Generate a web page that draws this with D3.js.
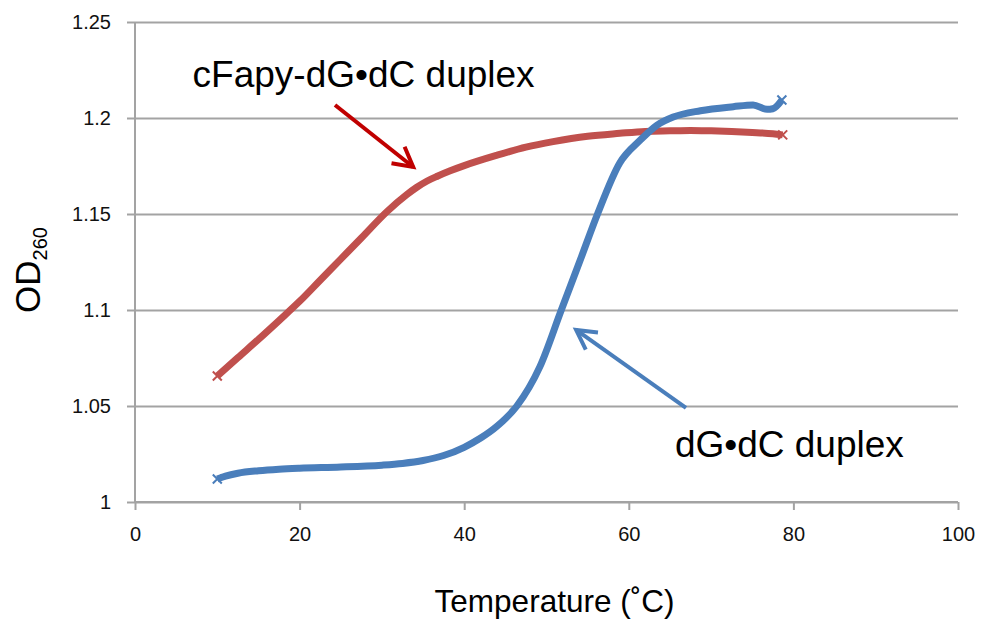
<!DOCTYPE html>
<html>
<head>
<meta charset="utf-8">
<script src="https://cdn.jsdelivr.net/npm/d3@7/dist/d3.min.js"></script>
<style>
  html, body { margin: 0; padding: 0; background: #fff; }
  svg { display: block; }
  text { font-family: "Liberation Sans", Arial, sans-serif; }
</style>
</head>
<body>
<svg id="chart" width="983" height="619"></svg>
<script>
// ---- data ----
const xTicks = [0, 20, 40, 60, 80, 100];
const yTicks = [1, 1.05, 1.1, 1.15, 1.2, 1.25];
const yTickLabels = ["1", "1.05", "1.1", "1.15", "1.2", "1.25"];

const cfapyTemp = [10, 12.5, 15, 17.5, 20, 22.5, 25, 27.5, 30.6, 33, 34.2, 35.5, 36.8, 38.3, 40, 43.9, 47.5, 50.8, 55, 58.9, 62, 65, 67.5, 70, 72.5, 75, 77.5, 78.7];
const cfapyOD   = [1.0656, 1.0752, 1.0847, 1.0945, 1.1045, 1.1155, 1.1265, 1.1375, 1.1512, 1.16, 1.1638, 1.1672, 1.1698, 1.1725, 1.1752, 1.1805, 1.1848, 1.1877, 1.1905, 1.192, 1.193, 1.1933, 1.1935, 1.1933, 1.193, 1.1925, 1.1918, 1.1912];

const dgdcTemp = [10, 11, 12.5, 15, 17.5, 20, 25, 30, 32.5, 35, 37.5, 40, 42, 44, 46.4, 49.2, 51.8, 54.1, 56.2, 58.9, 61.4, 63.4, 65.4, 68.7, 72.7, 75.1, 76.8, 77.5, 78.6];
const dgdcOD   = [1.012, 1.0135, 1.015, 1.0163, 1.0171, 1.0176, 1.0182, 1.0192, 1.0201, 1.0216, 1.0242, 1.0285, 1.0333, 1.0395, 1.05, 1.0705, 1.1, 1.126, 1.15, 1.1766, 1.1885, 1.1962, 1.2005, 1.2038, 1.2059, 1.2068, 1.2045, 1.2048, 1.2094];

const seriesNames = ["cFapy-dG•dC duplex", "dG•dC duplex"];
// annotation arrows in data units: [tailT, tailOD, tipT, tipOD]
const redArrow  = [24.3, 1.2068, 33.8, 1.1745];
const blueArrow = [66.95, 1.049, 53.6, 1.0896];
// label anchors in data units
const redLabel  = [7.0, 1.2161];
const blueLabel = [65.6, 1.0235];

const xTitle = "Temperature (˚C)";
const yTitleMain = "OD";
const yTitleSub = "260";

// ---- drawing ----
const svg = d3.select("#chart");
const x = d3.scaleLinear().domain([0, 100]).range([135, 958]);
const y = d3.scaleLinear().domain([1, 1.25]).range([502, 22]);

const gridColor = "#a3a3a3";

// gridlines
svg.append("g")
  .attr("transform", `translate(${x(0)},0)`)
  .call(d3.axisLeft(y).tickValues(yTicks).tickSize(-(x(100) - x(0))).tickFormat(""))
  .call(g => g.select(".domain").remove())
  .call(g => g.selectAll("line").attr("stroke", gridColor).attr("stroke-width", 2));

// y axis
const yAxis = svg.append("g")
  .attr("transform", `translate(${x(0)},0)`)
  .call(d3.axisLeft(y).tickValues(yTicks).tickSize(8).tickPadding(16)
    .tickFormat((d, i) => yTickLabels[i]));
yAxis.select(".domain").attr("stroke", gridColor).attr("stroke-width", 2).attr("d", `M0,${y(1.25)}V${y(1)}`);
yAxis.selectAll("line").attr("stroke", gridColor).attr("stroke-width", 2);
yAxis.selectAll("text").attr("font-size", 20).attr("fill", "#111");

// x axis
const xAxis = svg.append("g")
  .attr("transform", `translate(0,${y(1)})`)
  .call(d3.axisBottom(x).tickValues(xTicks).tickSize(8).tickPadding(17).tickFormat(d3.format("d")));
xAxis.select(".domain").attr("stroke", gridColor).attr("stroke-width", 2).attr("d", `M${x(0)},0H${x(100)}`);
xAxis.selectAll("line").attr("stroke", gridColor).attr("stroke-width", 2);
xAxis.selectAll("text").attr("font-size", 20).attr("fill", "#111");

// series
const line = d3.line().x(d => x(d[0])).y(d => y(d[1])).curve(d3.curveMonotoneX);
const redData = cfapyTemp.map((t, i) => [t, cfapyOD[i]]);
const blueData = dgdcTemp.map((t, i) => [t, dgdcOD[i]]);

function drawSeries(data, color) {
  svg.append("path").datum(data)
    .attr("fill", "none").attr("stroke", color).attr("stroke-width", 7)
    .attr("stroke-linejoin", "round").attr("d", line);
  const s = 4.5;
  const ends = [data[0], data[data.length - 1]];
  svg.append("g").selectAll("path").data(ends).join("path")
    .attr("d", d => {
      const cx = x(d[0]), cy = y(d[1]);
      return `M${cx - s},${cy - s}L${cx + s},${cy + s}M${cx - s},${cy + s}L${cx + s},${cy - s}`;
    })
    .attr("stroke", color).attr("stroke-width", 2).attr("fill", "none");
}
drawSeries(redData, "#c0504d");
drawSeries(blueData, "#4a7ebb");

// arrows
function drawArrow(a, color, width, headLen) {
  const x1 = x(a[0]), y1 = y(a[1]), x2 = x(a[2]), y2 = y(a[3]);
  const ang = Math.atan2(y2 - y1, x2 - x1);
  const spread = 0.5;
  const hx1 = x2 - headLen * Math.cos(ang - spread), hy1 = y2 - headLen * Math.sin(ang - spread);
  const hx2 = x2 - headLen * Math.cos(ang + spread), hy2 = y2 - headLen * Math.sin(ang + spread);
  svg.append("path")
    .attr("d", `M${x1},${y1}L${x2},${y2}`)
    .attr("stroke", color).attr("stroke-width", width).attr("fill", "none");
  svg.append("path")
    .attr("d", `M${hx1},${hy1}L${x2},${y2}L${hx2},${hy2}`)
    .attr("stroke", color).attr("stroke-width", width).attr("fill", "none")
    .attr("stroke-linejoin", "miter");
}
drawArrow(redArrow, "#c00000", 4, 22);
drawArrow(blueArrow, "#4a7ebb", 4, 22);

// labels
svg.append("text").attr("x", x(redLabel[0])).attr("y", y(redLabel[1]))
  .attr("font-size", 37).attr("fill", "#000").text(seriesNames[0]);
svg.append("text").attr("x", x(blueLabel[0])).attr("y", y(blueLabel[1]))
  .attr("font-size", 37).attr("fill", "#000").text(seriesNames[1]);

// axis titles
svg.append("text").attr("x", (x(0) + x(100)) / 2 + 8).attr("y", 612)
  .attr("text-anchor", "middle").attr("font-size", 31.5).attr("fill", "#000").text(xTitle);

const yt = svg.append("text")
  .attr("transform", "translate(40,270) rotate(-90)")
  .attr("text-anchor", "middle").attr("font-size", 35).attr("fill", "#000");
yt.append("tspan").text(yTitleMain);
yt.append("tspan").attr("font-size", 20).attr("dy", 7).text(yTitleSub);
</script>
</body>
</html>
